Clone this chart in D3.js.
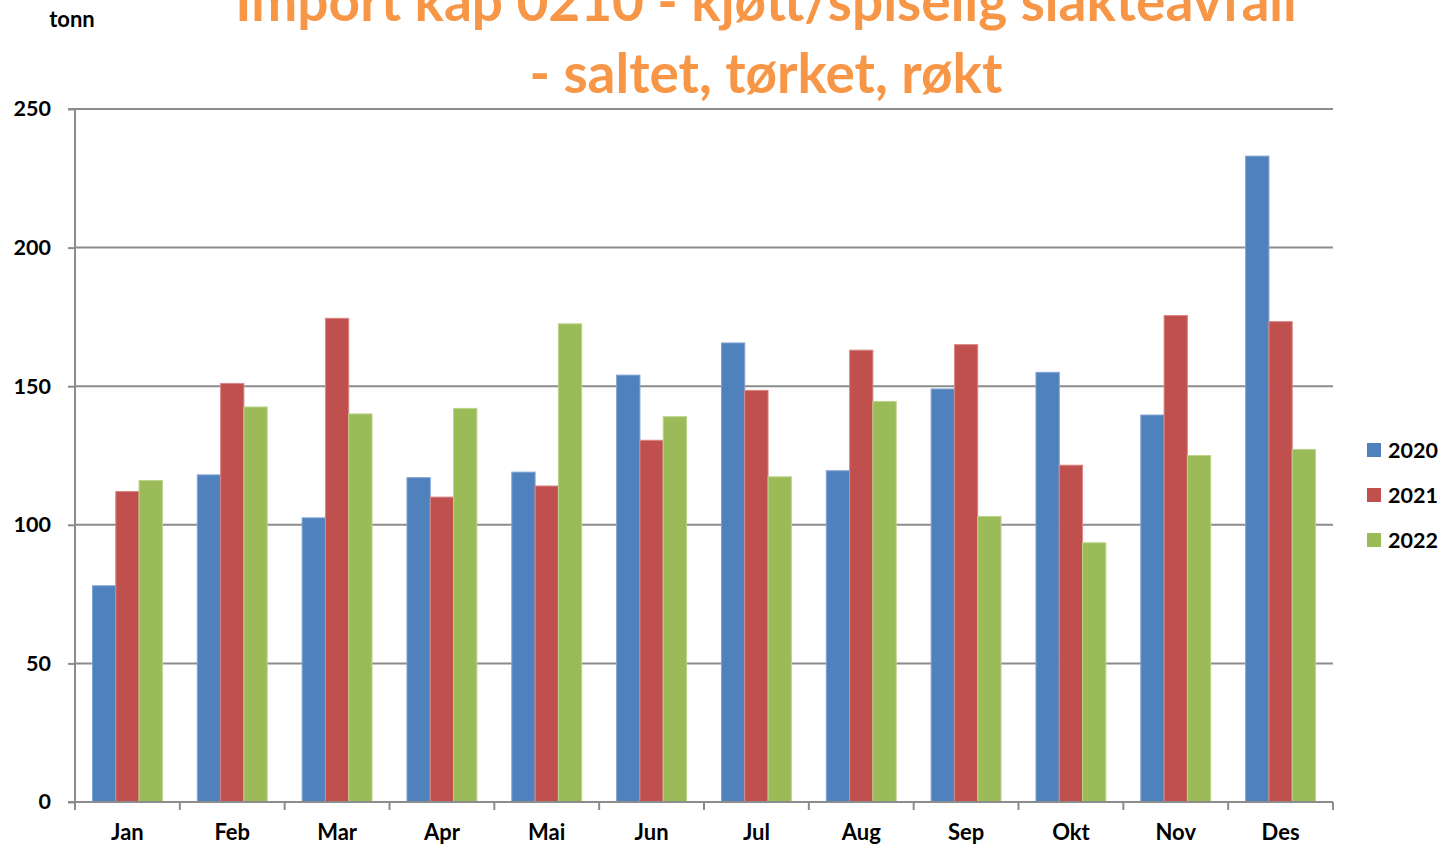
<!DOCTYPE html>
<html><head><meta charset="utf-8">
<script src="https://cdn.jsdelivr.net/npm/d3@7"></script>
<style>body{margin:0;background:#fff;} svg{display:block;} text{font-family:Lato, "Open Sans", sans-serif;}</style>
</head><body>
<svg id="c" width="1443" height="846"></svg>
<script>
const months = ["Jan","Feb","Mar","Apr","Mai","Jun","Jul","Aug","Sep","Okt","Nov","Des"];
const seriesNames = ["2020","2021","2022"];
const v2020 = [78,118,102.5,117,119,154,165.6,119.5,149,155,139.6,233];
const v2021 = [112,151,174.5,110,114,130.5,148.5,163,165,121.5,175.5,173.3];
const v2022 = [116,142.5,140,142,172.5,139,117.3,144.5,103,93.5,125,127.2];
const yTicks = [0,50,100,150,200,250];
const colors = ["#4F81BD","#C0504D","#9BBB59"];
const strokes = ["#7FA3D3","#D98886","#BBD38B"];
const values = [v2020, v2021, v2022];

const svg = d3.select("#c");
const L = 75, R = 1333, T = 109, B = 802;
const x = d3.scaleBand().domain(months).range([L, R]).paddingInner(0.3333).paddingOuter(0.1667);
const xs = d3.scaleBand().domain(seriesNames).range([0, x.bandwidth()]);
const y = d3.scaleLinear().domain([0,250]).range([B, T]);

// gridlines
svg.append("g").selectAll("line").data(yTicks.filter(d=>d>0)).join("line")
  .attr("x1", L).attr("x2", R).attr("y1", d=>y(d)).attr("y2", d=>y(d))
  .attr("stroke", "#8c8c8c").attr("stroke-width", 2);

// bars
seriesNames.forEach((s, si) => {
  svg.append("g").selectAll("rect").data(months).join("rect")
    .attr("x", m => x(m) + xs(s))
    .attr("y", (m, i) => y(values[si][i]))
    .attr("width", xs.bandwidth())
    .attr("height", (m, i) => B - y(values[si][i]))
    .attr("fill", colors[si])
    .attr("stroke", strokes[si]).attr("stroke-width", 1);
});

// y axis
const ya = d3.axisLeft(y).tickValues(yTicks).tickSize(7).tickPadding(17);
const gy = svg.append("g").attr("transform", `translate(${L},0)`).call(ya);
gy.select(".domain").attr("stroke", "#8c8c8c").attr("stroke-width", 2).attr("d", `M-7,${T}H0V${B}`);
gy.selectAll(".tick line").attr("stroke", "#8c8c8c").attr("stroke-width", 2);
gy.selectAll(".tick text").attr("font-size", 21.5).attr("font-weight", "bold").attr("fill", "#000")
  .attr("font-family", "Lato, sans-serif");

// x axis
const gx = svg.append("g").attr("transform", `translate(0,${B})`);
gx.append("line").attr("x1", L - 7).attr("x2", R).attr("y1", 0).attr("y2", 0).attr("stroke", "#8c8c8c").attr("stroke-width", 2);
const bounds = d3.range(13).map(i => L + i * (R - L) / 12);
gx.selectAll("line.t").data(bounds).join("line").attr("class","t")
  .attr("x1", d=>d).attr("x2", d=>d).attr("y1", 0).attr("y2", 8)
  .attr("stroke", "#8c8c8c").attr("stroke-width", 2);
gx.selectAll("text").data(months).join("text")
  .attr("x", m => x(m) + x.bandwidth()/2).attr("y", 38)
  .attr("text-anchor", "middle").attr("font-size", 22).attr("font-weight", "bold").text(d=>d);

// unit label
svg.append("text").attr("x", 72).attr("y", 27).attr("text-anchor", "middle")
  .attr("font-size", 22).attr("font-weight", "bold").text("tonn");

// title
const title = svg.append("text").attr("text-anchor", "middle").attr("fill", "#F79646")
  .attr("font-size", 55).attr("font-weight", "bold");
title.append("tspan").attr("x", 766).attr("y", 21).text("Import kap 0210 - kjøtt/spiselig slakteavfall");
title.append("tspan").attr("x", 766).attr("y", 93).text("- saltet, tørket, røkt");

// legend
const lg = svg.append("g");
seriesNames.forEach((s, i) => {
  const yy = 450 + i * 45;
  lg.append("rect").attr("x", 1367).attr("y", yy - 7).attr("width", 14).attr("height", 14).attr("fill", colors[i]);
  lg.append("text").attr("x", 1388).attr("y", yy + 8).attr("font-size", 21.5).attr("font-weight", "bold").text(s);
});
</script>
</body></html>
